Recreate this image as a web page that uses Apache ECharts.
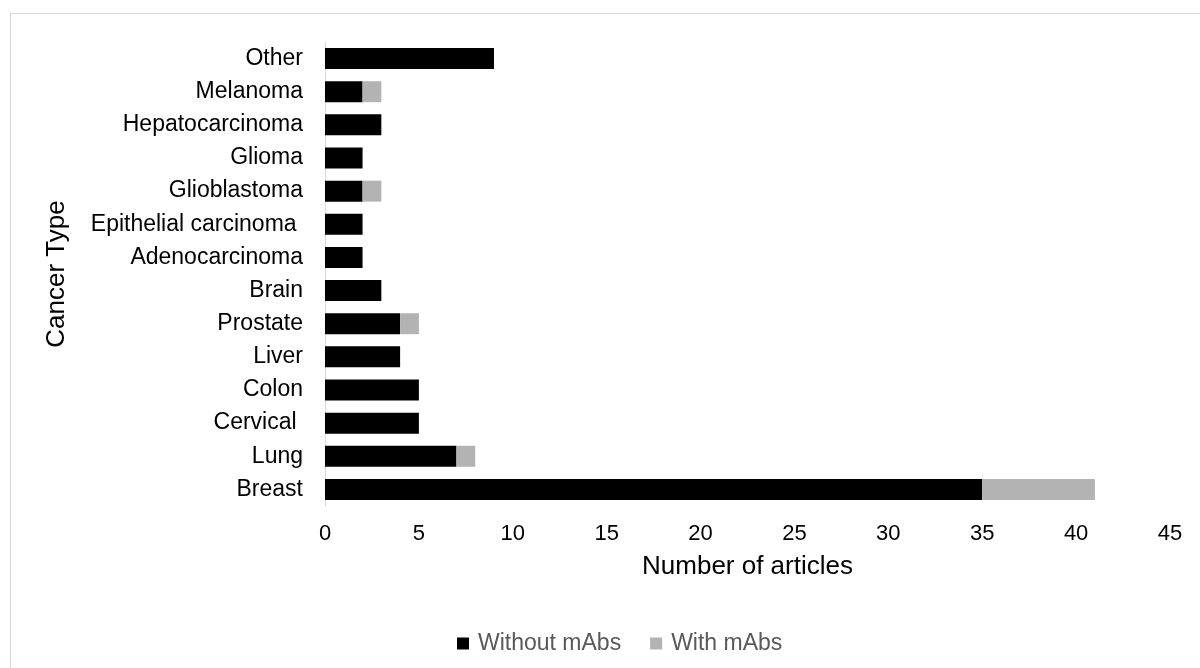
<!DOCTYPE html>
<html>
<head>
<meta charset="utf-8">
<script src="https://cdn.jsdelivr.net/npm/echarts@6/dist/echarts.min.js"></script>
<style>
  html, body { margin: 0; padding: 0; background: #fff; }
  #chart { width: 1200px; height: 668px; }
</style>
</head>
<body>
<div id="chart"></div>
<script>
// bottom to top, as drawn on the category axis
var categories = ['Breast', 'Lung', 'Cervical ', 'Colon', 'Liver', 'Prostate', 'Brain',
  'Adenocarcinoma', 'Epithelial carcinoma ', 'Glioblastoma', 'Glioma', 'Hepatocarcinoma', 'Melanoma', 'Other'];
var withoutMabs = [35, 7, 5, 5, 4, 4, 3, 2, 2, 2, 2, 3, 2, 9];
var withMabs = [6, 1, 0, 0, 0, 1, 0, 0, 0, 1, 0, 0, 1, 0];
var xTicks = [0, 5, 10, 15, 20, 25, 30, 35, 40, 45];

var font = '"Liberation Sans", Arial, sans-serif';
var myChart = echarts.init(document.getElementById('chart'), null, {renderer: 'canvas'});
myChart.setOption({
  animation: false,
  textStyle: {fontFamily: font},
  graphic: [{
    type: 'rect',
    shape: {x: 10.5, y: 13.5, width: 1200, height: 700},
    style: {fill: 'none', stroke: '#d9d9d9', lineWidth: 1}
  }],
  grid: {left: 325, right: 30, top: 42, bottom: 162},
  legend: {
    top: 627,
    left: 452,
    itemWidth: 12,
    itemHeight: 12,
    itemGap: 29,
    icon: 'rect',
    textStyle: {fontSize: 23, color: '#595959', fontFamily: font, padding: [0, 0, 0, 4]},
    data: ['Without mAbs', 'With mAbs']
  },
  xAxis: {
    type: 'value',
    min: xTicks[0],
    max: xTicks[xTicks.length - 1],
    interval: 5,
    axisLine: {show: false},
    axisTick: {show: false},
    splitLine: {show: false},
    axisLabel: {fontSize: 22, color: '#000', margin: 17, fontFamily: font},
    name: 'Number of articles',
    nameLocation: 'middle',
    nameGap: 48,
    nameTextStyle: {fontSize: 26, color: '#000', fontFamily: font}
  },
  yAxis: {
    type: 'category',
    data: categories,
    axisLine: {show: true, lineStyle: {color: '#d9d9d9', width: 1}},
    axisTick: {show: false},
    axisLabel: {fontSize: 23, color: '#000', margin: 22, fontFamily: font},
    name: 'Cancer Type',
    nameLocation: 'middle',
    nameGap: 255,
    nameTextStyle: {fontSize: 26, color: '#000', fontFamily: font}
  },
  series: [
    {
      name: 'Without mAbs',
      type: 'bar',
      stack: 'total',
      barWidth: 21,
      itemStyle: {color: '#000'},
      data: withoutMabs
    },
    {
      name: 'With mAbs',
      type: 'bar',
      stack: 'total',
      barWidth: 21,
      itemStyle: {color: '#b3b3b3'},
      data: withMabs
    }
  ]
});
</script>
</body>
</html>
